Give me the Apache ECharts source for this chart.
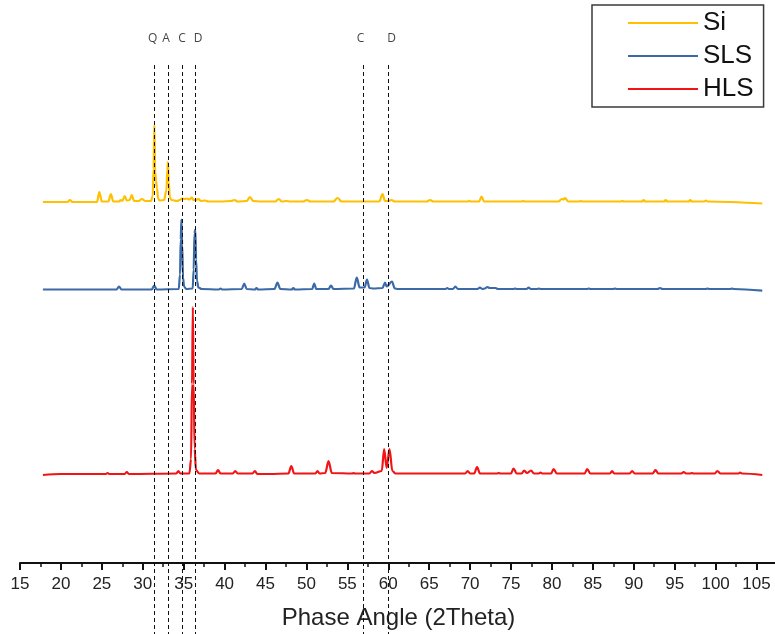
<!DOCTYPE html>
<html>
<head>
<meta charset="utf-8">
<script src="https://cdn.jsdelivr.net/npm/echarts@6/dist/echarts.min.js"></script>
<style>
  html, body { margin: 0; padding: 0; background: #ffffff; }
  #chart { width: 775px; height: 634px; }
</style>
</head>
<body>
<div id="chart"></div>
<script>
// XRD patterns: [2theta (deg), intensity above each pattern's own baseline (a.u.)]
const siPattern = [
  [17.8, 0], [20.8, 0], [21.1, 20], [21.4, 0], [24.4, 0], [24.7, 100], [25.0, 5], [25.8, 5],
  [26.1, 80], [26.4, 5], [27.1, 5], [27.3, 20], [27.5, 10], [27.8, 60], [28.05, 15], [28.4, 20],
  [28.65, 70], [28.95, 10], [29.5, 10], [29.9, 30], [30.3, 10], [31.0, 10], [31.22, 60], [31.32, 330],
  [31.42, 770], [31.52, 300], [31.62, 210], [31.74, 140], [31.88, 30], [32.1, 15], [32.6, 20], [32.9, 120],
  [33.0, 320], [33.08, 400], [33.18, 200], [33.3, 50], [33.5, 20], [34.2, 10], [34.5, 20], [34.8, 35],
  [35.1, 30], [35.4, 35], [35.7, 25], [36.0, 45], [36.2, 20], [36.5, 20], [36.8, 30], [37.1, 10],
  [37.6, 15], [38.0, 5], [39.5, 5], [40.8, 10], [41.2, 20], [41.6, 5], [42.7, 10], [43.1, 50],
  [43.5, 10], [44.5, 5], [46.2, 5], [46.6, 30], [47.0, 5], [47.6, 10], [48.0, 5], [49.6, 5],
  [50.05, 20], [50.5, 5], [53.3, 5], [53.8, 40], [54.3, 5], [58.9, 5], [59.3, 80], [59.6, 10],
  [60.0, 10], [60.4, 20], [60.8, 5], [64.7, 5], [65.1, 20], [65.5, 5], [69.7, 5], [69.9, 10],
  [70.1, 5], [71.1, 5], [71.4, 55], [71.7, 5], [76.3, 5], [76.5, 10], [76.7, 5], [80.8, 5],
  [81.2, 30], [81.4, 25], [81.6, 40], [82.0, 5], [83.3, 5], [83.5, 10], [83.7, 5], [88.4, 5],
  [88.6, 10], [88.8, 5], [91.0, 5], [91.2, 20], [91.4, 5], [93.7, 5], [93.9, 20], [94.1, 5],
  [96.7, 5], [96.9, 20], [97.1, 5], [98.6, 5], [98.8, 15], [99.0, 5], [105.7, -15]
];

const slsPattern = [
  [17.8, 0], [26.8, 0], [27.1, 30], [27.4, 0], [31.1, 0], [31.4, 40], [31.7, 0], [34.4, 5],
  [34.55, 150], [34.64, 500], [34.72, 700], [34.82, 450], [34.92, 120], [35.05, 30], [35.3, 5], [36.1, 10],
  [36.22, 200], [36.32, 560], [36.42, 600], [36.52, 300], [36.62, 90], [36.8, 20], [37.2, 5], [39.3, 0],
  [39.5, 10], [39.7, 0], [42.1, 5], [42.4, 60], [42.7, 5], [43.7, 0], [43.9, 15], [44.1, 0],
  [46.1, 5], [46.46, 70], [46.8, 5], [48.2, 0], [48.4, 15], [48.6, 0], [50.7, 5], [50.95, 60],
  [51.2, 5], [52.7, 5], [53.0, 40], [53.3, 5], [55.8, 10], [56.15, 120], [56.5, 20], [57.1, 20],
  [57.4, 100], [57.7, 15], [58.2, 10], [59.3, 15], [59.6, 70], [59.8, 30], [60.45, 80], [60.8, 10],
  [61.2, 5], [67.0, 5], [67.2, 15], [67.4, 5], [67.9, 5], [68.2, 30], [68.5, 5], [70.9, 5],
  [71.2, 20], [71.5, 5], [71.8, 10], [72.1, 25], [72.4, 15], [73.1, 15], [73.4, 5], [75.3, 5],
  [75.5, 10], [75.7, 5], [76.9, 5], [77.15, 20], [77.4, 5], [78.2, 5], [78.4, 10], [78.6, 5],
  [84.3, 5], [84.5, 10], [84.7, 5], [87.5, 5], [87.7, 10], [87.9, 5], [92.9, 5], [93.2, 15],
  [93.5, 5], [98.8, 5], [99.0, 10], [99.2, 5], [101.8, 5], [102.0, 10], [102.2, 5], [105.7, -12]
];

const hlsPattern = [
  [17.8, -10], [20.0, 0], [25.5, 0], [25.7, 10], [25.9, 0], [27.8, 0], [28.05, 20], [28.3, 0],
  [34.1, 5], [34.35, 30], [34.6, 5], [35.7, 5], [35.9, 150], [36.02, 900], [36.12, 1670], [36.22, 900],
  [36.34, 250], [36.5, 40], [36.9, 5], [38.9, 5], [39.2, 40], [39.5, 5], [41.0, 5], [41.3, 30],
  [41.6, 5], [43.4, 5], [43.7, 30], [44.0, 0], [45.5, 0], [47.8, 5], [48.15, 80], [48.5, 5],
  [51.1, 5], [51.35, 30], [51.6, 5], [52.3, 10], [52.7, 130], [53.1, 10], [55.6, 5], [55.76, 10],
  [55.9, 5], [57.7, 5], [58.0, 30], [58.3, 10], [59.2, 30], [59.5, 250], [59.8, 60], [60.15, 250],
  [60.5, 30], [60.9, 5], [69.4, 5], [69.7, 30], [70.0, 5], [70.5, 5], [70.85, 70], [71.2, 5],
  [73.3, 5], [73.5, 10], [73.7, 5], [75.0, 5], [75.3, 55], [75.7, 5], [76.3, 5], [76.6, 35],
  [76.95, 10], [77.45, 35], [77.8, 5], [78.4, 5], [78.6, 15], [78.8, 5], [79.9, 5], [80.2, 50],
  [80.6, 5], [84.0, 5], [84.3, 50], [84.7, 5], [87.1, 5], [87.35, 30], [87.6, 5], [89.5, 5],
  [89.8, 30], [90.1, 5], [92.3, 5], [92.65, 40], [93.0, 5], [95.8, 5], [96.1, 20], [96.4, 5],
  [96.9, 5], [97.1, 10], [97.3, 5], [99.9, 5], [100.2, 30], [100.6, 5], [102.8, 5], [103.0, 15],
  [103.2, 5], [105.7, -10]
];

// Phase reference lines and their letters (Q quartz, A, C, D)
const refLineX = [31.42, 33.13, 34.85, 36.36, 56.9, 60.03];
const phaseLabels = ['Q', 'A', 'C', 'D', 'C', 'D'];
const phaseLabelX = [31.2, 32.85, 34.8, 36.75, 56.6, 60.4];

const seriesNames = ['Si', 'SLS', 'HLS'];

// vertical stacking of the three patterns
const stackOffset = { Si: 3610, SLS: 2735, HLS: 890 };
const colors = { Si: '#FFC000', SLS: '#3B6AA6', HLS: '#F21414' };
const patterns = { Si: siPattern, SLS: slsPattern, HLS: hlsPattern };

const yTop = 5630;
const refLineTop = 4980;
const refLineBottom = -710;
const labelRow = 5240;

const chart = echarts.init(document.getElementById('chart'), null, { renderer: 'canvas' });

const patternSeries = seriesNames.map(name => ({
  name: name,
  type: 'line',
  data: patterns[name].map(p => [p[0], p[1] + stackOffset[name]]),
  symbol: 'none',
  showSymbol: false,
  smooth: 0.35,
  smoothMonotone: 'x',
  color: colors[name],
  lineStyle: { color: colors[name], width: 2.2 },
  z: 2,
  animation: false
}));

const option = {
  backgroundColor: '#ffffff',
  animation: false,
  grid: { left: 20, right: -2, top: 0, bottom: 71, containLabel: false, outerBoundsMode: 'none' },
  legend: {
    data: seriesNames.map(n => ({ name: n, icon: 'rect' })),
    orient: 'vertical',
    left: 592,
    top: 5,
    padding: [5, 10, 5, 36],
    itemWidth: 70,
    itemHeight: 2,
    itemGap: 7,
    backgroundColor: '#ffffff',
    borderColor: '#3a3a3a',
    borderWidth: 1.5,
    borderRadius: 0,
    textStyle: { fontFamily: 'Liberation Sans, Arial, sans-serif', fontSize: 26, color: '#111', lineHeight: 26 }
  },
  xAxis: {
    type: 'value',
    min: 15,
    max: 107.5,
    interval: 5,
    name: 'Phase Angle (2Theta)',
    nameLocation: 'middle',
    nameGap: 43,
    nameTextStyle: { fontFamily: 'Liberation Sans, Arial, sans-serif', fontSize: 24, color: '#222' },
    axisLine: { onZero: false, lineStyle: { color: '#111', width: 2 } },
    axisTick: { show: true, inside: false, length: 7, lineStyle: { color: '#111', width: 2 } },
    minorTick: { show: true, splitNumber: 2, length: 4, lineStyle: { color: '#111', width: 1.5 } },
    axisLabel: {
      margin: 13,
      fontFamily: 'Liberation Sans, Arial, sans-serif',
      fontSize: 17,
      color: '#222',
      showMaxLabel: false
    },
    splitLine: { show: false }
  },
  yAxis: {
    type: 'value',
    min: 0,
    max: yTop,
    show: false,
    splitLine: { show: false }
  },
  series: patternSeries.concat([
    {
      name: 'refLines',
      type: 'lines',
      coordinateSystem: 'cartesian2d',
      polyline: false,
      silent: true,
      clip: false,
      z: 5,
      lineStyle: { color: '#111', width: 1, type: [4, 3], opacity: 1 },
      data: refLineX.map(x => ({ coords: [[x, refLineTop], [x, refLineBottom]] })),
      animation: false
    },
    {
      name: 'phaseLabels',
      type: 'scatter',
      symbolSize: 0,
      silent: true,
      clip: false,
      z: 6,
      label: {
        show: true,
        position: 'inside',
        formatter: p => p.name,
        fontFamily: 'Open Sans, Liberation Sans, sans-serif',
        fontSize: 12,
        color: '#111'
      },
      data: phaseLabels.map((t, i) => ({ name: t, value: [phaseLabelX[i], labelRow] })),
      animation: false
    }
  ])
};

chart.setOption(option);
</script>
</body>
</html>
